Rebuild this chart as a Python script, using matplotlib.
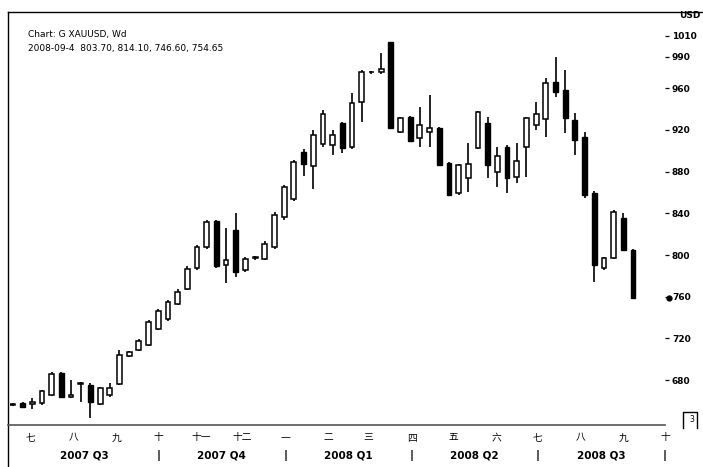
import pandas as pd
import matplotlib
matplotlib.use('Agg')
import matplotlib.pyplot as plt
from matplotlib.patches import Rectangle
from matplotlib.lines import Line2D
import matplotlib.transforms as mtransforms

plt.rcParams['font.family'] = ['DejaVu Sans', 'Noto Sans CJK SC']

# weekly gold bars, first week starting 2007-06-18
first_week = '2007-06-18'

opens = [656, 658.3, 657, 658, 666, 687, 664, 676, 675.6, 657, 666, 676, 703, 709, 714, 729,
         739, 753, 767, 788, 808, 833, 790, 824, 786, 797, 796, 808, 836, 854, 899, 885,
         906, 905, 926.9, 904, 947, 975, 975, 1004, 918, 932, 912, 918, 922, 888, 859.7, 874,
         903, 926.9, 880, 903.9, 875, 903.9, 925, 930, 966.2, 958.5, 929.7, 913.4, 859.7, 788,
         797, 835.8, 805.1]
highs = [658, 659, 663, 671, 688, 688, 680, 678.5, 677, 673, 677.5, 709, 708, 719, 738, 748,
         757, 767, 789, 810, 834, 834, 826, 840.6, 798, 799, 813, 841.5, 867, 891, 902, 920,
         939, 920, 928, 955.6, 977, 976.5, 994, 1004.5, 932, 933, 942, 953.7, 923, 889, 887, 907.7,
         938, 932.6, 903.9, 905, 907.7, 932.6, 947, 970, 990.2, 977.7, 936.5, 918.2, 861, 798,
         843.4, 840, 806]
lows = [655, 654, 652, 656, 665, 663, 663, 659, 644, 656, 664, 675, 702, 708, 713, 728,
        737, 752, 766, 786, 806, 788, 773.4, 779.2, 784, 795, 795, 806, 834, 852, 876, 863,
        904, 896, 898, 902, 927.8, 974, 974, 921, 917, 908, 904, 904, 885, 857, 858, 860.7,
        902, 874.1, 865.5, 859.7, 869.3, 875, 920, 913.4, 951.8, 917.3, 896.2, 855, 774.4, 786,
        796, 804, 758]
closes = [656.5, 654.5, 659, 670, 686, 664, 666, 677, 659.3, 672, 672, 704, 707, 718, 736, 746,
          755, 765, 787, 808, 832, 789, 795, 784, 796, 797.5, 811, 838, 865, 889, 887, 915,
          935, 915, 902.9, 946, 975.8, 975.5, 978, 922, 931, 909, 925, 922, 886.6, 857.8, 886, 887,
          937, 886.6, 895, 874.1, 890, 931.7, 935, 965, 956.6, 931.7, 910.6, 857.8, 790.7, 797,
          841.5, 805.1, 759]

price_ticks = [680, 720, 760, 800, 840, 880, 920, 960, 990, 1010]
month_names = ['七', '八', '九', '十', '十一', '十二', '一', '二', '三', '四', '五', '六',
               '七', '八', '九', '十']
quarter_names = ['2007 Q3', '2007 Q4', '2008 Q1', '2008 Q2', '2008 Q3']

weeks = pd.date_range(first_week, periods=len(opens), freq='7D')
months = pd.date_range('2007-07-01', periods=len(month_names), freq='MS')
month_pos = [(m - weeks[0]).days / 7 for m in months]

W, H = 703, 467
fig = plt.figure(figsize=(W / 100, H / 100), dpi=100)
ax = fig.add_axes([10 / W, 42 / H, 655 / W, 413 / H])

body_w = 0.5
for i in range(len(opens)):
    o, h, l, c = opens[i], highs[i], lows[i], closes[i]
    ax.plot([i, i], [l, h], color='black', lw=1.2, solid_capstyle='butt', zorder=1)
    bottom = min(o, c)
    height = max(abs(c - o), 0.8)
    if c < o:
        rect = Rectangle((i - body_w / 2, bottom), body_w, height, facecolor='black',
                         edgecolor='black', lw=1.0, zorder=2)
    else:
        rect = Rectangle((i - body_w / 2, bottom), body_w, height, facecolor='white',
                         edgecolor='black', lw=1.1, zorder=2)
    ax.add_patch(rect)

ax.set_xlim(-0.3, 67.3)
ax.set_ylim(637, 1033)

for s in ['top', 'right', 'left', 'bottom']:
    ax.spines[s].set_visible(False)
ax.set_xticks([])
ax.yaxis.tick_right()
ax.set_yticks(price_ticks)
ax.set_yticklabels([str(t) for t in price_ticks], fontsize=6.5, fontweight='bold')
ax.tick_params(axis='y', direction='out', length=3, width=0.9, pad=2)

# current price marker
blend = mtransforms.blended_transform_factory(ax.transAxes, ax.transData)
ax.plot([1.006], [closes[-1]], 'o', color='black', ms=3.5, transform=blend, clip_on=False)

# month and quarter labels
xblend = ax.get_xaxis_transform()
for p, name in zip(month_pos, month_names):
    ax.text(p, -0.03, name, transform=xblend, ha='center', va='center', fontsize=7)

q_starts = month_pos[::3]
q_left = [max(-0.3, q) for q in [-0.3] + q_starts[1:]]
for k, name in enumerate(quarter_names):
    left = q_left[k]
    right = q_starts[k + 1]
    ax.text((left + right) / 2, -0.074, name, transform=xblend, ha='center', va='center',
            fontsize=7.5, fontweight='bold')
    ax.text(right, -0.074, '|', transform=xblend, ha='center', va='center', fontsize=8,
            fontweight='bold')

# frame lines
fig.add_artist(Line2D([8 / W, 1], [1 - 12 / H, 1 - 12 / H], color='black', lw=1.0))
fig.add_artist(Line2D([8 / W, 8 / W], [0, 1 - 12 / H], color='black', lw=1.0))
fig.add_artist(Line2D([8 / W, 665 / W], [42 / H, 42 / H], color='#555555', lw=1.2))

# header
fig.text(28 / W, 1 - 34 / H, 'Chart: G XAUUSD, Wd', fontsize=6.5, va='center')
fig.text(28 / W, 1 - 49 / H, '2008-09-4  803.70, 814.10, 746.60, 754.65', fontsize=6.5,
         va='center')
fig.text(690 / W, 1 - 16 / H, 'USD', fontsize=6.5, ha='center', va='center', fontweight='bold')

# small box icon at bottom right
fig.add_artist(Line2D([683 / W, 683 / W, 697 / W, 697 / W],
                      [1 - 428 / H, 1 - 412 / H, 1 - 412 / H, 1 - 428 / H],
                      color='black', lw=1.0))
fig.text(692 / W, 1 - 420 / H, '3', fontsize=5.5, ha='center', va='center')

fig.savefig('out.png', dpi=100)
